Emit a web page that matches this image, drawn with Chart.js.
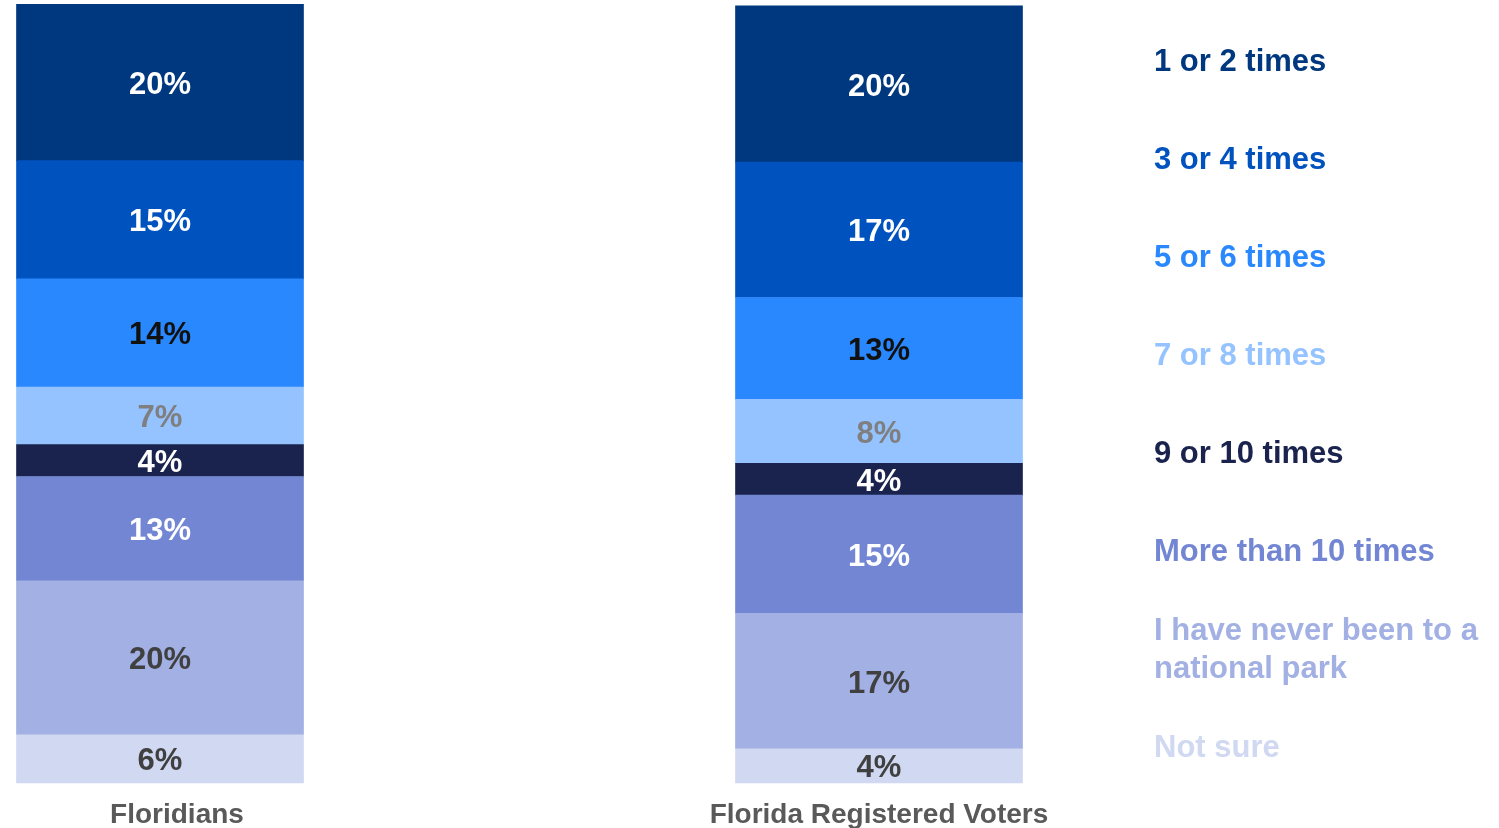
<!DOCTYPE html>
<html>
<head>
<meta charset="utf-8">
<script src="https://cdn.jsdelivr.net/npm/chart.js@4"></script>
<style>
  body { margin: 0; background: #fff; }
  #wrap { width: 1499px; height: 828px; }
</style>
</head>
<body>
<div id="wrap"><canvas id="visitsChart" width="1499" height="828"></canvas></div>
<script>
const groups = ["Floridians", "Florida Registered Voters"];
const answers = ["1 or 2 times", "3 or 4 times", "5 or 6 times", "7 or 8 times",
  "9 or 10 times", "More than 10 times", "I have never been to a national park", "Not sure"];

// shares (top segment first)
const floridians = [20.1, 15.2, 13.9, 7.4, 4.1, 13.4, 19.8, 6.2];
const voters = [20.1, 17.4, 13.1, 8.2, 4.1, 15.2, 17.4, 4.4];

// printed labels on the bars
const floridianLabels = ["20%", "15%", "14%", "7%", "4%", "13%", "20%", "6%"];
const voterLabels = ["20%", "17%", "13%", "8%", "4%", "15%", "17%", "4%"];

const fills = ["#00387f", "#0052bf", "#2a88ff", "#94c3ff", "#1a234d", "#7286d4", "#a2b0e3", "#d0d8f2"];
const labelColors = ["#ffffff", "#ffffff", "#111111", "#7f7f7f", "#ffffff", "#ffffff", "#404040", "#404040"];

const FONT = "'Liberation Sans', Arial, sans-serif";

// stacked bars draw bottom-up, so build datasets in reverse
const datasets = answers.map((name, i) => ({
  label: name,
  data: [floridians[i], voters[i]],
  printed: [floridianLabels[i], voterLabels[i]],
  backgroundColor: fills[i],
  labelColor: labelColors[i],
  borderWidth: 0,
  barThickness: 287,
  clip: false
})).reverse();

const barLabels = {
  id: "barLabels",
  afterDatasetsDraw(chart) {
    const ctx = chart.ctx;
    ctx.save();
    ctx.font = "bold 31px " + FONT;
    ctx.textAlign = "center";
    ctx.textBaseline = "middle";
    chart.data.datasets.forEach((ds, di) => {
      const meta = chart.getDatasetMeta(di);
      meta.data.forEach((bar, j) => {
        const mid = (bar.y + bar.base) / 2;
        ctx.fillStyle = ds.labelColor;
        ctx.fillText(ds.printed[j], bar.x, mid + 3);
      });
    });
    ctx.restore();
  }
};

// category names under the bars (the first one sits a bit right of its bar)
const groupLabels = {
  id: "groupLabels",
  afterDraw(chart) {
    const ctx = chart.ctx;
    const xs = chart.scales.x;
    const nudge = [17, 0];
    ctx.save();
    ctx.font = "bold 28px " + FONT;
    ctx.fillStyle = "#595959";
    ctx.textAlign = "center";
    ctx.textBaseline = "middle";
    groups.forEach((g, i) => {
      ctx.fillText(g, xs.getPixelForValue(i) + nudge[i], chart.chartArea.bottom + 32);
    });
    ctx.restore();
  }
};

function wrapText(ctx, text, maxW) {
  const words = text.split(" ");
  const lines = [];
  let line = "";
  words.forEach(w => {
    const test = line ? line + " " + w : w;
    if (ctx.measureText(test).width > maxW && line) {
      lines.push(line);
      line = w;
    } else {
      line = test;
    }
  });
  lines.push(line);
  return lines;
}

const sideLegend = {
  id: "sideLegend",
  afterDraw(chart) {
    const ctx = chart.ctx;
    ctx.save();
    ctx.font = "bold 31px " + FONT;
    ctx.textAlign = "left";
    ctx.textBaseline = "middle";
    answers.forEach((name, i) => {
      const lines = wrapText(ctx, name, 342);
      const cy = 62 + i * 98;
      const lh = 38;
      ctx.fillStyle = fills[i];
      lines.forEach((ln, k) => {
        ctx.fillText(ln, 1154, cy + (k - (lines.length - 1) / 2) * lh);
      });
    });
    ctx.restore();
  }
};

new Chart(document.getElementById("visitsChart").getContext("2d"), {
  type: "bar",
  data: { labels: groups, datasets: datasets },
  options: {
    responsive: false,
    animation: false,
    layout: { padding: { left: 160, right: 620, top: 5, bottom: 45 } },
    plugins: {
      legend: { display: false },
      tooltip: { enabled: false }
    },
    scales: {
      x: {
        stacked: true,
        offset: false,
        display: false
      },
      y: {
        stacked: true,
        display: false,
        min: 0,
        max: 100
      }
    }
  },
  plugins: [barLabels, groupLabels, sideLegend]
});
</script>
</body>
</html>
